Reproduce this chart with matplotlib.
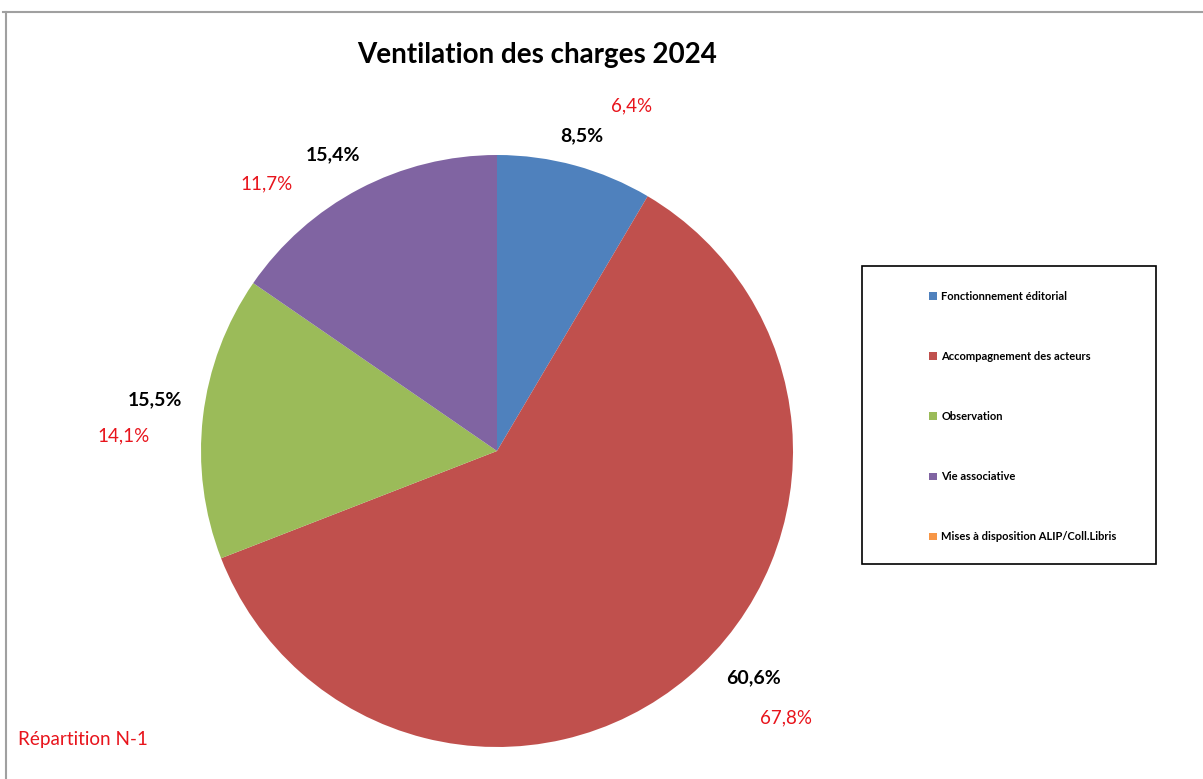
import matplotlib
matplotlib.use("Agg")
import matplotlib.pyplot as plt
from matplotlib.patches import Patch
from matplotlib.lines import Line2D

plt.rcParams['font.family'] = ['Lato', 'DejaVu Sans']

categories = ['Fonctionnement éditorial', 'Accompagnement des acteurs', 'Observation',
              'Vie associative', 'Mises à disposition ALIP/Coll.Libris']
values_2024 = [8.5, 60.6, 15.5, 15.4, 0.0]
values_n1 = [6.4, 67.8, 14.1, 11.7, 0.0]
colors = ['#4F81BD', '#C0504D', '#9BBB59', '#8064A2', '#F79646']

# where Excel put the data labels (pie radius = 1)
label_pos = [(0.287, 1.064), (0.868, -0.767), (-1.155, 0.172), (-0.554, 1.0)]
# offsets (pixels) of the N-1 labels from the current-year labels
n1_offsets = [(50, 30), (32, -40), (-32, -36), (-66, -29)]

W, H = 1203, 779
fig = plt.figure(figsize=(W / 100, H / 100), dpi=100)

# pie centred at (497, 451) px with radius 296 px
cx, cy, r = 497, 451, 296
ax = fig.add_axes([(cx - r) / W, (H - cy - r) / H, 2 * r / W, 2 * r / H])


def fmt(p):
    if p < 0.05:
        return ''
    return f'{p:.1f}%'.replace('.', ',')


wedges, texts, autotexts = ax.pie(values_2024, colors=colors, startangle=90, counterclock=False,
                                  autopct=fmt, pctdistance=1.14,
                                  textprops=dict(fontsize=14, fontweight='bold', color='black'))
ax.set_xlim(-1, 1)
ax.set_ylim(-1, 1)
ax.set_aspect('equal')

for t, pos in zip(autotexts, label_pos):
    t.set_position(pos)

for t, v, off in zip(autotexts, values_n1, n1_offsets):
    ax.annotate(fmt(v), xy=(0.5, 0.5), xycoords=t, xytext=off, textcoords='offset pixels',
                ha='center', va='center', fontsize=13.5, color='#E8141C')

fig.text(537 / W, 1 - 55 / H, 'Ventilation des charges 2024', ha='center', va='center',
         fontsize=20, fontweight='bold')
fig.text(18 / W, 1 - 740 / H, 'Répartition N-1', ha='left', va='center',
         fontsize=13.6, color='#E8141C')

# legend box
fig.patches.append(plt.Rectangle((862 / W, 1 - 564 / H), 294 / W, 298 / H, transform=fig.transFigure,
                                 fill=False, edgecolor='black', linewidth=1.2))
handles = [Patch(facecolor=c, edgecolor='none') for c in colors]
fig.legend(handles, categories, loc='upper left', bbox_to_anchor=(919 / W, 1 - 281 / H),
           frameon=False, prop=dict(size=8, weight='bold'), labelspacing=4.42,
           handlelength=0.7, handleheight=0.7, handletextpad=0.4)

# outer chart frame
fig.add_artist(Line2D([3 / W, 1], [1 - 12 / H, 1 - 12 / H], color='#A0A0A0', lw=1.5))
fig.add_artist(Line2D([6 / W, 6 / W], [0, 1 - 12 / H], color='#A0A0A0', lw=1.5))

fig.savefig('out.png', dpi=100)
